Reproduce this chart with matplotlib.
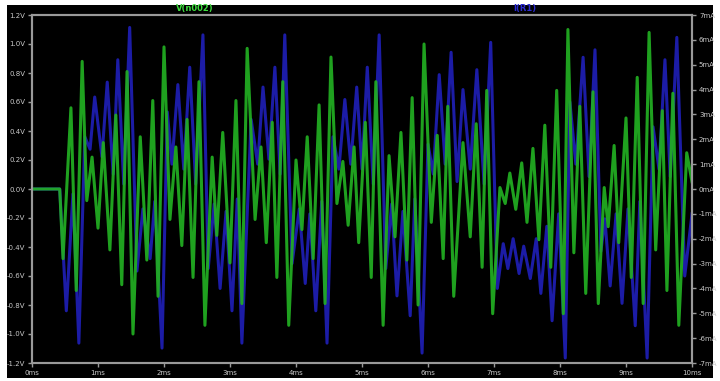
import matplotlib
matplotlib.use("Agg")
import matplotlib.pyplot as plt
from matplotlib.patches import Rectangle

t_v = [0, 0.42, 0.47, 0.59, 0.67, 0.76, 0.83, 0.91, 1.00, 1.08,
       1.18, 1.27, 1.36, 1.44, 1.53, 1.64, 1.74, 1.83, 1.91, 2.00,
       2.09, 2.18, 2.27, 2.35, 2.44, 2.53, 2.62, 2.73, 2.80, 2.89,
       3.00, 3.09, 3.18, 3.26, 3.38, 3.47, 3.55, 3.64, 3.71, 3.80,
       3.89, 4.00, 4.09, 4.17, 4.26, 4.35, 4.44, 4.53, 4.62, 4.71,
       4.79, 4.88, 4.95, 5.05, 5.14, 5.21, 5.32, 5.41, 5.50, 5.59,
       5.68, 5.76, 5.85, 5.94, 6.05, 6.14, 6.23, 6.30, 6.39, 6.53,
       6.64, 6.73, 6.82, 6.89, 6.98, 7.09, 7.17, 7.24, 7.33, 7.42,
       7.50, 7.59, 7.68, 7.77, 7.86, 7.95, 8.05, 8.12, 8.21, 8.30,
       8.39, 8.50, 8.58, 8.67, 8.73, 8.82, 8.89, 9.00, 9.08, 9.17,
       9.26, 9.35, 9.45, 9.55, 9.62, 9.71, 9.80, 9.92, 10.0]
volts = [0, 0, -0.48, 0.56, -0.70, 0.88, -0.08, 0.22, -0.27, 0.32,
         -0.42, 0.51, -0.66, 0.81, -1.00, 0.36, -0.49, 0.61, -0.74, 0.98,
         -0.21, 0.29, -0.39, 0.48, -0.61, 0.74, -0.94, 0.22, -0.32, 0.39,
         -0.51, 0.61, -0.79, 0.97, -0.21, 0.29, -0.37, 0.46, -0.61, 0.74,
         -0.94, 0.20, -0.28, 0.36, -0.48, 0.58, -0.79, 0.91, -0.10, 0.19,
         -0.25, 0.29, -0.37, 0.46, -0.61, 0.74, -0.94, 0.23, -0.33, 0.39,
         -0.49, 0.63, -0.80, 1.00, -0.23, 0.37, -0.48, 0.57, -0.74, 0.32,
         -0.33, 0.45, -0.54, 0.68, -0.86, 0.01, -0.10, 0.11, -0.14, 0.18,
         -0.23, 0.28, -0.35, 0.44, -0.54, 0.68, -0.86, 1.10, -0.44, 0.57,
         -0.72, 0.67, -0.79, 0.01, -0.26, 0.30, -0.37, 0.49, -0.61, 0.77,
         -0.79, 1.08, -0.42, 0.54, -0.70, 0.66, -0.94, 0.25, 0.05]

# blue trace: current (mA)
t_i = [0, 0.42, 0.52, 0.62, 0.71, 0.80, 0.88, 0.95, 1.06, 1.14,
       1.23, 1.30, 1.39, 1.48, 1.59, 1.68, 1.79, 1.86, 1.97, 2.05,
       2.12, 2.21, 2.30, 2.39, 2.48, 2.59, 2.67, 2.76, 2.85, 2.94,
       3.03, 3.11, 3.18, 3.32, 3.42, 3.50, 3.59, 3.68, 3.76, 3.83,
       3.94, 4.05, 4.14, 4.21, 4.30, 4.39, 4.47, 4.56, 4.65, 4.74,
       4.83, 4.92, 5.00, 5.08, 5.17, 5.26, 5.36, 5.45, 5.53, 5.62,
       5.73, 5.80, 5.91, 6.00, 6.08, 6.17, 6.26, 6.35, 6.44, 6.53,
       6.64, 6.74, 6.85, 6.95, 7.05, 7.14, 7.21, 7.29, 7.38, 7.45,
       7.55, 7.64, 7.71, 7.80, 7.88, 7.98, 8.08, 8.15, 8.24, 8.35,
       8.44, 8.53, 8.62, 8.68, 8.76, 8.85, 8.94, 9.03, 9.14, 9.21,
       9.32, 9.41, 9.50, 9.59, 9.67, 9.77, 9.89, 10.0]
milliamps = [0, 0, -4.9, -0.2, -6.2, 2.1, 1.6, 3.7, 1.3, 4.3,
             0.6, 5.2, 0.2, 6.5, -3.3, -0.8, -2.8, -0.5, -6.4, 3.1,
             1.0, 4.2, 0.8, 4.9, 0.2, 6.2, -3.2, -0.6, -4.0, -0.9,
             -4.9, -0.4, -6.2, 2.8, 1.0, 4.1, 1.2, 4.9, 0.6, 6.2,
             -3.0, -0.8, -3.8, -1.0, -4.9, -0.5, -6.2, 2.1, 0.8, 3.6,
             1.0, 4.1, 0.8, 4.9, 0.2, 6.2, -3.2, -0.6, -4.3, -0.9,
             -5.1, -0.4, -6.6, 1.8, 0.6, 4.6, 1.0, 5.5, 0.3, 4.0,
             0.8, 4.8, 0.2, 5.9, -4.0, -2.2, -3.2, -2.0, -3.4, -2.3,
             -3.6, -2.0, -4.2, -1.5, -5.3, -1.0, -6.8, 3.5, 1.0, 5.3,
             0.5, 5.6, -2.5, -1.2, -3.9, -1.0, -4.6, -0.8, -5.5, -0.5,
             -6.8, 2.5, 0.8, 5.2, 0.5, 6.1, -3.5, -1.0]

v_ticks = [-1.2, -1.0, -0.8, -0.6, -0.4, -0.2, 0.0, 0.2, 0.4, 0.6, 0.8, 1.0, 1.2]
i_ticks = list(range(-7, 8))
ms_ticks = list(range(0, 11))

green = "#22b022"
blue = "#1c1ca6"
frame = "#9a9a9a"
txt = "#c8c8c8"

fig = plt.figure(figsize=(7.2, 3.81), dpi=100, facecolor="white")
fig.patches.append(Rectangle((7 / 720, 3 / 381), 706 / 720, 373 / 381,
                             transform=fig.transFigure, facecolor="black",
                             edgecolor="none", zorder=-5))

ax = fig.add_axes([32 / 720, 18 / 381, 660 / 720, 348 / 381])
ax.set_facecolor("black")
ax2 = ax.twinx()

ax2.plot(t_i, milliamps, color=blue, lw=2.2, solid_joinstyle="round")
ax2.set_ylim(-7, 7)
ax.set_zorder(ax2.get_zorder() + 1)
ax.patch.set_visible(False)
ax.plot(t_v, volts, color=green, lw=2.2, alpha=0.92, solid_joinstyle="round")
ax.set_ylim(-1.2, 1.2)
ax.set_xlim(0, 10)

ax.set_yticks(v_ticks)
ax.set_yticklabels(["%.1fV" % v for v in v_ticks])
ax2.set_yticks(i_ticks)
ax2.set_yticklabels(["%dmA" % i for i in i_ticks])
ax.set_xticks(ms_ticks)
ax.set_xticklabels(["%dms" % m for m in ms_ticks])

for a in (ax, ax2):
    a.tick_params(colors=frame, labelcolor=txt, labelsize=5, length=3, width=1, pad=2)
    for s in a.spines.values():
        s.set_color(frame)
        s.set_linewidth(1.5)

fig.text(195 / 720, 1 - 8 / 381, "V(n002)", color="#3ddc3d", fontsize=6,
         fontweight="bold", ha="center", va="center")
fig.text(525 / 720, 1 - 8 / 381, "I(R1)", color="#2a2ad0", fontsize=6,
         fontweight="bold", ha="center", va="center")

fig.savefig("out.png", dpi=100, facecolor=fig.get_facecolor())
